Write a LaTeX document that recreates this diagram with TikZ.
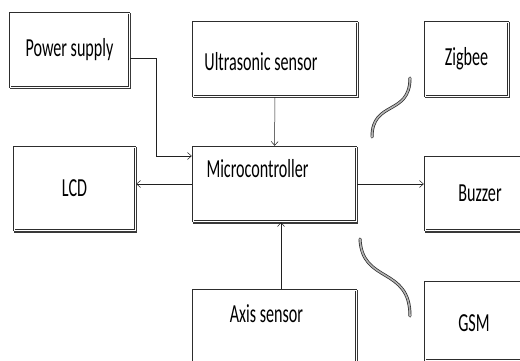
\documentclass[tikz,border=0pt]{standalone}
\usepackage{fontspec}
\newfontfamily\boxfont[FakeStretch=0.62]{Carlito}
\usetikzlibrary{arrows.meta}

\begin{document}
\begin{tikzpicture}[
  x=1pt, y=-1pt,
  box/.style={draw=gray!35!black, line width=2.4pt, fill=white, inner sep=0pt,
    preaction={draw=gray!45!black, line width=2.4pt, transform canvas={shift={(0.7pt,-1.3pt)}}},
    postaction={draw=white, line width=0.9pt},
    font=\boxfont\fontsize{26}{28}\selectfont},
  lbl/.style={font=\boxfont\fontsize{26}{28}\selectfont, inner sep=0pt},
  wave/.style={draw=gray!30!black, line width=0.7pt, double=gray!60, double distance=1.6pt, line cap=round},
  >={Straight Barb[length=4pt, width=7pt]}
]
  \useasboundingbox[fill=white] (0,0) rectangle (520,361);

  % blocks
  \node[box, minimum width=119pt, minimum height=74pt] (power) at (69.5,50) {Power supply};
  \node[box, minimum width=164pt, minimum height=74pt,
    label={[lbl, xshift=-14pt, yshift=-3pt]center:Ultrasonic sensor}] (ultra) at (275,59) {};
  \node[box, minimum width=83pt, minimum height=74pt] (zigbee) at (466.5,59) {Zigbee};
  \node[box, minimum width=163pt, minimum height=74pt,
    label={[lbl, xshift=-17pt, yshift=15pt]center:Microcontroller}] (micro) at (274.5,184) {};
  \node[box, minimum width=121pt, minimum height=83pt] (lcd) at (74.5,188.5) {LCD};
  \node[box, minimum width=110pt, minimum height=73pt] (buzzer) at (480,193.5) {Buzzer};
  \node[box, minimum width=163pt, minimum height=75pt,
    label={[lbl, xshift=-8pt, yshift=14pt]center:Axis sensor}] (axis) at (274.5,327.5) {};
  \node[box, minimum width=110pt, minimum height=78pt,
    label={[lbl, xshift=-6pt, yshift=-2pt]center:GSM}] (gsm) at (480,321) {};

  % links
  \draw[gray!25!black, line width=0.5pt, ->] ([yshift=-8pt]power.east) -- ++(26,0) |- ([yshift=28pt]micro.west);
  \draw[gray!25!black, line width=0.5pt, ->] (ultra) -- (micro);
  \draw[gray!25!black, line width=0.5pt, ->] (micro.west) -- (micro.west -| lcd.east);
  \draw[gray!25!black, line width=0.5pt, ->] (micro.east) -- (micro.east -| buzzer.west);
  \draw[gray!25!black, line width=0.5pt, ->] ([xshift=6.5pt]axis.north) -- ([xshift=6.5pt]micro.south);

  % wireless marks
  \draw[wave] (372,137) .. controls (372,100) and (410,116) .. (410,78);
  \draw[wave] (360,239) .. controls (362,284) and (410,266) .. (410,316);
\end{tikzpicture}
\end{document}
